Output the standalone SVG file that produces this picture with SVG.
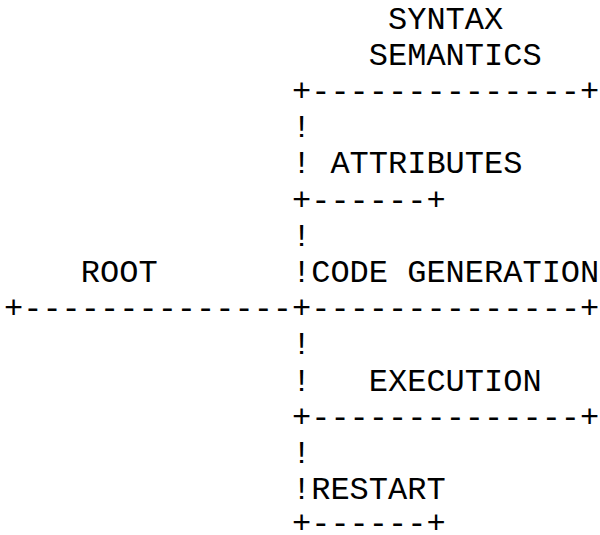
<svg xmlns="http://www.w3.org/2000/svg" width="600" height="535" viewBox="0 0 600 535">
  <style>
    text { font-family: "Courier New", "Liberation Mono", "DejaVu Sans Mono", monospace; font-size: 32px; fill: #000; }
  </style>
  <rect x="0" y="0" width="600" height="535" fill="#fff"/>
  <g id="connectors">
    <text x="292" y="101">+--------------+</text>
    <text x="292" y="137.2">!</text>
    <text x="292" y="173.4">!</text>
    <text x="292" y="209.6">+------+</text>
    <text x="292" y="245.8">!</text>
    <text x="292" y="282">!</text>
    <text x="4" y="318.2">+--------------+--------------+</text>
    <text x="292" y="354.4">!</text>
    <text x="292" y="390.6">!</text>
    <text x="292" y="426.8">+--------------+</text>
    <text x="292" y="463">!</text>
    <text x="292" y="499.2">!</text>
    <text x="292" y="533">+------+</text>
  </g>
  <g id="node-syntax-semantics">
    <text x="388" y="28.6">SYNTAX</text>
    <text x="368.8" y="64.8">SEMANTICS</text>
  </g>
  <g id="node-attributes">
    <text x="330.4" y="173.4">ATTRIBUTES</text>
  </g>
  <g id="node-root">
    <text x="80.8" y="282">ROOT</text>
  </g>
  <g id="node-code-generation">
    <text x="311.2" y="282">CODE GENERATION</text>
  </g>
  <g id="node-execution">
    <text x="368.8" y="390.6">EXECUTION</text>
  </g>
  <g id="node-restart">
    <text x="311.2" y="499.2">RESTART</text>
  </g>
</svg>
